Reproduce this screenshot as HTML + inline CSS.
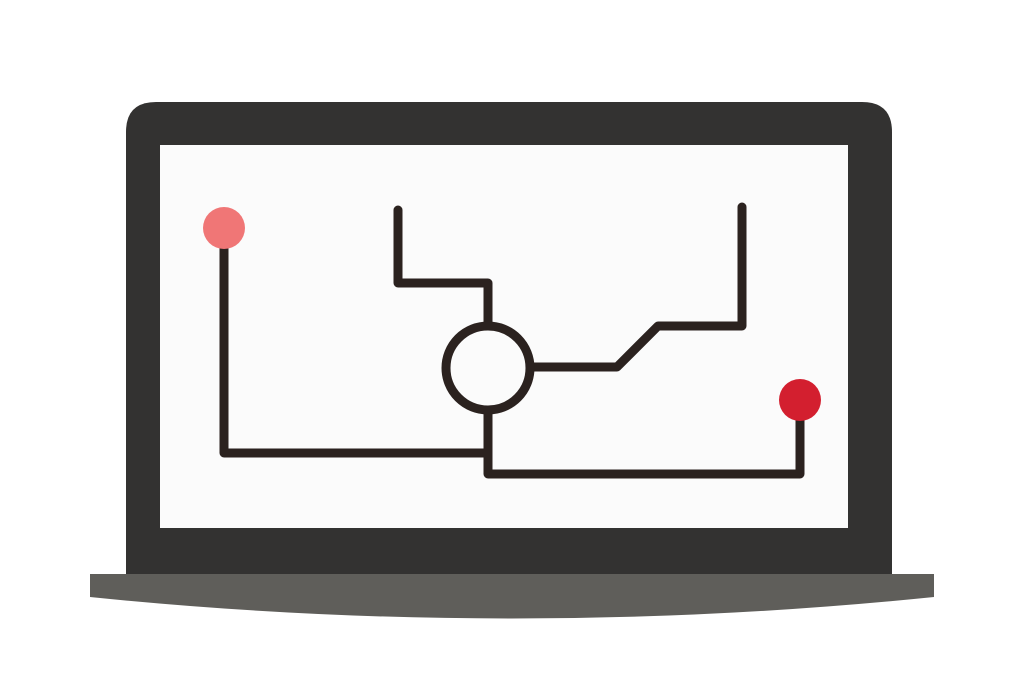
<!DOCTYPE html>
<html><head><style>html,body{margin:0;padding:0;background:#fff;}</style></head>
<body>
<svg width="1024" height="683" viewBox="0 0 1024 683" xmlns="http://www.w3.org/2000/svg">
<path d="M126 132 Q126 102 156 102 L862 102 Q892 102 892 132 L892 574 L126 574 Z" fill="#333231"/>
<rect x="160" y="145" width="688" height="383" fill="#fbfbfb"/>
<path d="M90 574 L934 574 L934 597 Q512 640 90 597 Z" fill="#5f5e5a"/>
<g fill="none" stroke="#2b221f" stroke-width="9" stroke-linejoin="round" stroke-linecap="round">
<polyline points="224,228 224,453 488,453"/>
<polyline points="398,210 398,283 488,283 488,325"/>
<polyline points="488,411 488,474 800,474 800,400"/>
<polyline points="532,367 617,367 658,326 742,326 742,207"/>
<circle cx="488" cy="368" r="42"/>
</g>
<circle cx="224" cy="228" r="21" fill="#f07676"/>
<circle cx="800" cy="400" r="21" fill="#d31f2f"/>
</svg>
</body></html>
